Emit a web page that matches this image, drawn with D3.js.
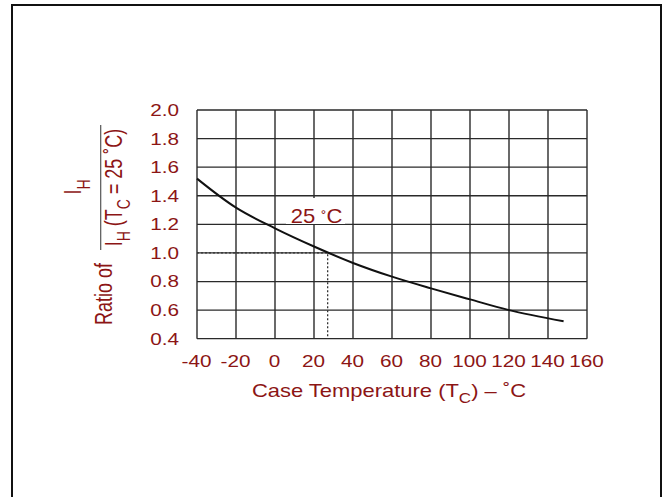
<!DOCTYPE html>
<html>
<head>
<meta charset="utf-8">
<script src="https://cdn.jsdelivr.net/npm/d3@7"></script>
<style>
  body { margin: 0; background: #fff; }
  text { font-family: "Liberation Sans", Arial, sans-serif; fill: #8c1515; }
</style>
</head>
<body>
<div id="chart"></div>
<script>
// curve: case temperature (C) vs ratio IH / IH(25C)
const temps  = [-40, -20, 0, 20, 40, 60, 80, 100, 120, 148];
const ratios = [1.52, 1.317, 1.172, 1.045, 0.93, 0.834, 0.752, 0.675, 0.6, 0.522];

const xTicks = [-40, -20, 0, 20, 40, 60, 80, 100, 120, 140, 160];
const yTicks = [0.4, 0.6, 0.8, 1.0, 1.2, 1.4, 1.6, 1.8, 2.0];

const refTemp = 27, refRatio = 1.0;

const W = 668, H = 497;
const plot = {left: 197, right: 587, top: 110, bottom: 338.7};
const stretch = 1.22;   // the lettering in the picture is a bit wide

let svg = d3.select("#chart").append("svg")
    .attr("width", W)
    .attr("height", H);

// outer frame (open at bottom)
svg.append("rect")
    .attr("x", 12).attr("y", 5)
    .attr("width", 649).attr("height", 600)
    .attr("fill", "none")
    .attr("stroke", "#111")
    .attr("stroke-width", 2);

let x = d3.scaleLinear().domain([-40, 160]).range([plot.left, plot.right]);
let y = d3.scaleLinear().domain([0.4, 2.0]).range([plot.bottom, plot.top]);

// grid
svg.append("g").selectAll("line")
    .data(xTicks)
    .enter().append("line")
    .attr("x1", d => x(d)).attr("x2", d => x(d))
    .attr("y1", plot.top).attr("y2", plot.bottom)
    .attr("stroke", "#2a2a2a").attr("stroke-width", 1.4);

svg.append("g").selectAll("line")
    .data(yTicks)
    .enter().append("line")
    .attr("x1", plot.left).attr("x2", plot.right)
    .attr("y1", d => y(d)).attr("y2", d => y(d))
    .attr("stroke", "#2a2a2a").attr("stroke-width", 1.3);

// tick labels via d3 axes
let yAxis = d3.axisLeft(y).tickValues(yTicks).tickFormat(d3.format(".1f")).tickSize(0);
let gy = svg.append("g").attr("transform", `translate(${plot.left},0)`).call(yAxis);
gy.select(".domain").remove();
gy.selectAll("text")
    .attr("x", 0)
    .attr("transform", `translate(-18,0) scale(${stretch},1)`)
    .style("font-size", "17px")
    .attr("fill", "#8c1515");

let xAxis = d3.axisBottom(x).tickValues(xTicks).tickFormat(d => String(d)).tickSize(0);
let gx = svg.append("g").attr("transform", `translate(0,${plot.bottom})`).call(xAxis);
gx.select(".domain").remove();
gx.selectAll("text")
    .attr("y", 0).attr("dy", null)
    .attr("transform", `translate(-1,28) scale(${stretch},1)`)
    .style("font-size", "17px")
    .attr("fill", "#8c1515");

// dotted reference lines to 25C point
svg.append("path")
    .attr("d", `M${x(-40)},${y(refRatio)} L${x(refTemp)},${y(refRatio)} L${x(refTemp)},${y(0.4)}`)
    .attr("fill", "none")
    .attr("stroke", "#333")
    .attr("stroke-width", 1.3)
    .attr("stroke-dasharray", "2,2");

// curve
let line = d3.line()
    .x((d, i) => x(temps[i]))
    .y(d => y(d))
    .curve(d3.curveCatmullRom);

svg.append("path")
    .datum(ratios)
    .attr("d", line)
    .attr("fill", "none")
    .attr("stroke", "#111")
    .attr("stroke-width", 2);

// 25 C label with white box
svg.append("rect")
    .attr("x", 286).attr("y", 198)
    .attr("width", 59).attr("height", 26)
    .attr("fill", "#fff");
let lbl = svg.append("text")
    .attr("transform", "translate(316.5,222.7) scale(1.1,1)")
    .attr("text-anchor", "middle")
    .style("font-size", "20px");
lbl.append("tspan").text("25 ");
lbl.append("tspan").text("\u02DA").style("font-size", "14px").attr("dy", -1);
lbl.append("tspan").text("C").attr("dy", 1);

// x title
let xt = svg.append("text")
    .attr("transform", `translate(389,397.3) scale(${stretch},1)`)
    .attr("text-anchor", "middle")
    .style("font-size", "18px");
xt.append("tspan").text("Case Temperature (T");
xt.append("tspan").text("C").style("font-size", "14px").attr("dy", 6);
xt.append("tspan").text(") \u2013 \u02DAC").attr("dy", -6);

// y title (rotated, lettering stretched along screen x)
let yt = svg.append("g");
yt.append("text")
    .attr("transform", `translate(112,294) scale(1.28,1) rotate(-90)`)
    .attr("text-anchor", "middle")
    .style("font-size", "18px")
    .text("Ratio of");

let num = yt.append("text")
    .attr("transform", `translate(81,187) scale(1.28,1) rotate(-90)`)
    .attr("text-anchor", "middle")
    .style("font-size", "18px");
num.append("tspan").text("I");
num.append("tspan").text("H").style("font-size", "14px").attr("dy", 7);

let den = yt.append("text")
    .attr("transform", `translate(122,187.5) scale(1.28,1) rotate(-90)`)
    .attr("text-anchor", "middle")
    .style("font-size", "18px");
den.append("tspan").text("I");
den.append("tspan").text("H").style("font-size", "14px").attr("dy", 6);
den.append("tspan").text(" (T").attr("dy", -6);
den.append("tspan").text("C").style("font-size", "14px").attr("dy", 6);
den.append("tspan").text(" = 25 \u02DAC)").attr("dy", -6);

yt.append("line")
    .attr("x1", 100.7).attr("x2", 100.7)
    .attr("y1", 125).attr("y2", 250)
    .attr("stroke", "#555")
    .attr("stroke-width", 1.2);
</script>
</body>
</html>
